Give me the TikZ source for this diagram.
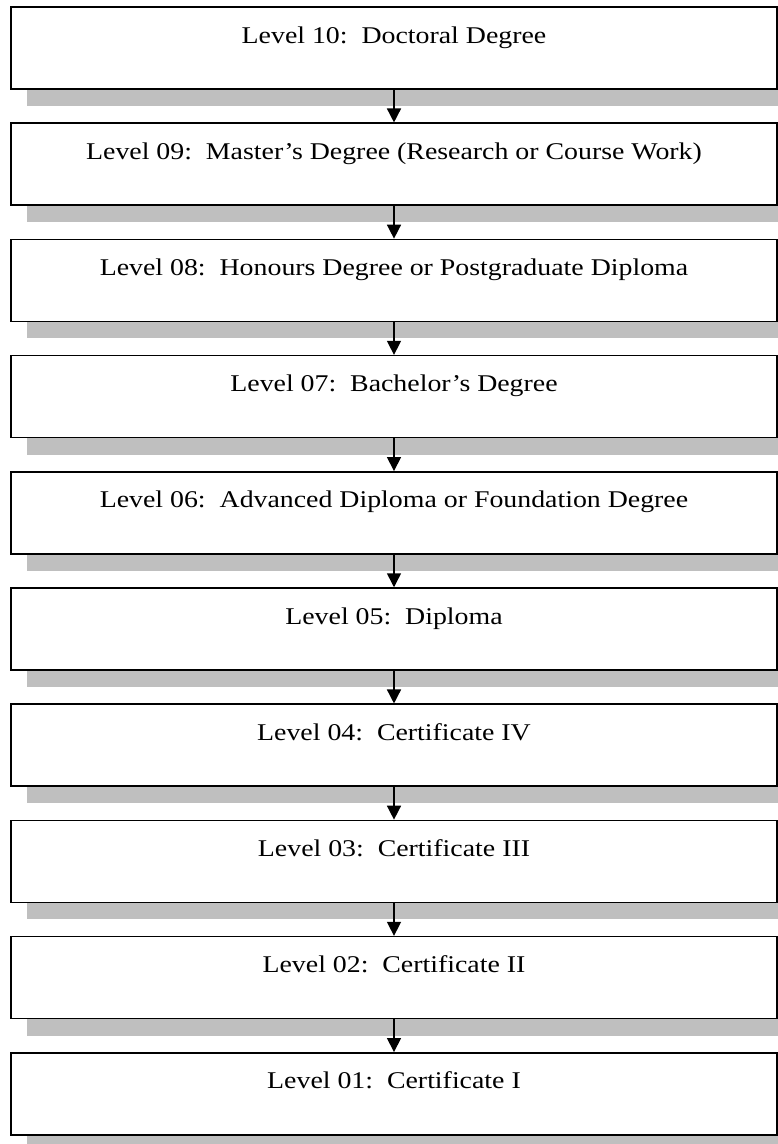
\documentclass[tikz,border=0pt]{standalone}
\usepackage{fontspec}
\setmainfont{Liberation Serif}[FakeStretch=1.16]
\usetikzlibrary{arrows.meta}
\definecolor{shadowgray}{RGB}{191,191,191}
\tikzset{
  levelbox/.style={draw=black, line width=1.5pt, fill=white, inner sep=0pt,
    minimum width=766pt, text height=36pt, text depth=46pt,
    font=\fontsize{24}{28}\selectfont,
    preaction={fill=shadowgray, draw=none, transform canvas={xshift=16pt,yshift=-17pt}}},
  levelarrow/.style={line width=1.5pt, -{Triangle[width=14pt,length=14pt]}}
}
\begin{document}
\begin{tikzpicture}[x=1pt,y=1pt]
\useasboundingbox (0,0) rectangle (778,-1144);
\clip (0,0) rectangle (778,-1144);
                \node[levelbox] (l10) at (394,-48.0) {Level 10:\ \ Doctoral Degree};
                \node[levelbox] (l09) at (394,-164.2) {Level 09:\ \ Master’s Degree (Research or Course Work)};
                \node[levelbox] (l08) at (394,-280.4) {Level 08:\ \ Honours Degree or Postgraduate Diploma};
                \node[levelbox] (l07) at (394,-396.6) {Level 07:\ \ Bachelor’s Degree};
                \node[levelbox] (l06) at (394,-512.8) {Level 06:\ \ Advanced Diploma or Foundation Degree};
                \node[levelbox] (l05) at (394,-629.0) {Level 05:\ \ Diploma};
                \node[levelbox] (l04) at (394,-745.2) {Level 04:\ \ Certificate IV};
                \node[levelbox] (l03) at (394,-861.4) {Level 03:\ \ Certificate III};
                \node[levelbox] (l02) at (394,-977.6) {Level 02:\ \ Certificate II};
                \node[levelbox] (l01) at (394,-1093.8) {Level 01:\ \ Certificate I};
                \draw[levelarrow] (l10) -- (l09) ;
                \draw[levelarrow] (l09) -- (l08) ;
                \draw[levelarrow] (l08) -- (l07) ;
                \draw[levelarrow] (l07) -- (l06) ;
                \draw[levelarrow] (l06) -- (l05) ;
                \draw[levelarrow] (l05) -- (l04) ;
                \draw[levelarrow] (l04) -- (l03) ;
                \draw[levelarrow] (l03) -- (l02) ;
                \draw[levelarrow] (l02) -- (l01) ;
\end{tikzpicture}
\end{document}
